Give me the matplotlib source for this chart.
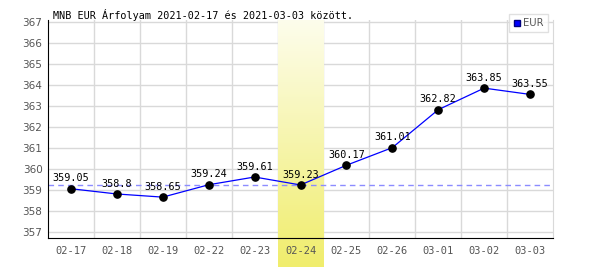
import numpy as np
import matplotlib
matplotlib.use("Agg")
import matplotlib.pyplot as plt
from matplotlib.lines import Line2D

dates = ["02-17", "02-18", "02-19", "02-22", "02-23", "02-24",
         "02-25", "02-26", "03-01", "03-02", "03-03"]
rates = [359.05, 358.8, 358.65, 359.24, 359.61, 359.23,
         360.17, 361.01, 362.82, 363.85, 363.55]
labels = ["359.05", "358.8", "358.65", "359.24", "359.61", "359.23",
          "360.17", "361.01", "362.82", "363.85", "363.55"]
highlight = 5
title = "MNB EUR Árfolyam 2021-02-17 és 2021-03-03 között."

mono = "DejaVu Sans Mono"

fig = plt.figure(figsize=(6, 2.7), dpi=100)
ax = fig.add_axes([48 / 600, 1 - 238 / 270, 505 / 600, 218 / 270])
ymin, ymax = 356.7, 367.1
ax.set_xlim(-0.5, len(dates) - 0.5)
ax.set_ylim(ymin, ymax)

# grid
for v in range(357, 368):
    ax.axhline(v, color="#d9d9d9", lw=1, zorder=1)
for i in range(len(dates) - 1):
    ax.axvline(i + 0.5, color="#d9d9d9", lw=1, zorder=1)

# highlighted day with gradient
top_c = np.array([253, 253, 236]) / 255
bot_c = np.array([240, 237, 108]) / 255
t = np.linspace(0, 1, 256)[:, None]
grad = (top_c * (1 - t) + bot_c * t)[:, None, :]
band_bottom = ymin - (267 - 238) / 20.97
ax.imshow(grad, extent=[highlight - 0.5, highlight + 0.5, band_bottom, ymax],
          aspect="auto", zorder=2, clip_on=False, interpolation="bilinear")

ax.axhline(rates[highlight], color="#8c8cff", lw=1, ls=(0, (4, 3)), zorder=3)

x = np.arange(len(dates))
ax.plot(x, rates, color="#0000ff", lw=0.9, zorder=4)
ax.plot(x, rates, "o", color="black", ms=5.2, zorder=5)
for xi, yi, lab in zip(x, rates, labels):
    ax.annotate(lab, (xi, yi), xytext=(0, 7.5), textcoords="offset points",
                ha="center", va="center", fontsize=7.3, family=mono,
                color="black", zorder=6)

ax.set_xticks(x)
ax.set_xticklabels(dates)
ax.set_yticks(range(357, 368))
ax.tick_params(length=0, labelsize=7.5, labelcolor="#555555", pad=6)
ax.tick_params(axis="y", pad=4)
for lab in ax.get_xticklabels():
    lab.set_family(mono)
ax.xaxis.set_zorder(8)
ax.yaxis.set_zorder(8)

ax.spines["top"].set_visible(False)
ax.spines["right"].set_color("#d9d9d9")
ax.spines["left"].set_color("black")
ax.spines["bottom"].set_color("black")
ax.spines["left"].set_zorder(7)
ax.spines["bottom"].set_zorder(7)

fig.text(53 / 600, 1 - 15 / 270, title, fontsize=7.3, family=mono,
         va="center", ha="left")

handle = Line2D([], [], marker="s", color="none", markerfacecolor="#0000ff",
                markeredgecolor="#000080", markersize=5)
leg = fig.legend([handle], ["EUR"], loc="upper right",
                 bbox_to_anchor=(553 / 600, 1 - 9 / 270), fontsize=7.2,
                 frameon=True, fancybox=False, edgecolor="#d9d9d9",
                 handlelength=0.8, handletextpad=0.3, borderpad=0.4,
                 labelcolor="#555555")
leg.get_frame().set_linewidth(1)

fig.savefig("out.png", dpi=100)
